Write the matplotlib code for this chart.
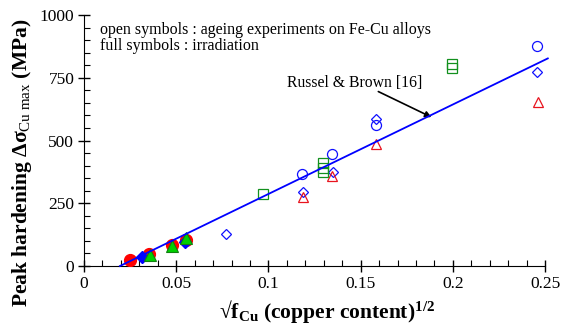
import numpy as np
import matplotlib
matplotlib.use("Agg")
import matplotlib.pyplot as plt
from matplotlib.ticker import MultipleLocator

plt.rcParams['font.family'] = ['Liberation Serif', 'DejaVu Serif']
plt.rcParams['mathtext.fontset'] = 'custom'
plt.rcParams['mathtext.rm'] = 'Liberation Serif'
plt.rcParams['mathtext.it'] = 'Liberation Serif:italic'
plt.rcParams['mathtext.bf'] = 'Liberation Serif:bold'

# ageing experiments on Fe-Cu alloys (open symbols)
open_circle_x = [0.1183, 0.1346, 0.1585, 0.2457]
open_circle_y = [367, 446, 562, 878]
open_diamond_x = [0.0772, 0.1185, 0.1350, 0.1585, 0.2457]
open_diamond_y = [128, 296, 374, 584, 774]
open_triangle_x = [0.1187, 0.1346, 0.1585, 0.2460]
open_triangle_y = [275, 358, 485, 655]
open_square_x = [0.0971, 0.1297, 0.1297, 0.1297, 0.1995, 0.1995]
open_square_y = [286, 376, 392, 412, 790, 806]

# irradiation (full symbols)
full_circle_x = [0.0250, 0.0355, 0.0476, 0.0552]
full_circle_y = [22, 48, 82, 104]
full_diamond_x = [0.0313, 0.0549]
full_diamond_y = [37, 96]
full_triangle_x = [0.0359, 0.0476, 0.0554]
full_triangle_y = [45, 80, 113]

# Russel & Brown model line
model_x = [0.0195, 0.2515]
model_y = [0, 827]

fig = plt.figure(figsize=(5.77, 3.32), dpi=100)
ax = fig.add_axes([0.1456, 0.1988, 0.799, 0.7560])

blue = '#1010ff'
red = '#e8141e'
green = '#12901e'

ax.plot(open_circle_x, open_circle_y, 'o', ms=7.2, mfc='none', mec=blue, mew=0.9)
ax.plot(open_diamond_x, open_diamond_y, 'D', ms=5.6, mfc='none', mec=blue, mew=0.9)
ax.plot(open_triangle_x, open_triangle_y, '^', ms=7.5, mfc='none', mec=red, mew=0.9)
ax.plot(open_square_x, open_square_y, 's', ms=7.0, mfc='none', mec=green, mew=0.9)

ax.plot(full_circle_x, full_circle_y, 'o', ms=8.5, mfc='#ff0000', mec='#ff0000', zorder=3)
ax.plot(full_diamond_x, full_diamond_y, 'D', ms=5.8, mfc='#0000ff', mec='#0000ff', zorder=3)
ax.plot(full_triangle_x, full_triangle_y, '^', ms=8.0, mfc='#00d000', mec='#108010', mew=0.8, zorder=4)

ax.plot(model_x, model_y, '-', color='#0000ff', lw=1.3, clip_on=False, zorder=5)

ax.text(0.1103, 729, 'Russel & Brown [16]', fontsize=11.3, va='center', ha='left')
ax.annotate('', xy=(0.1884, 593), xytext=(0.1596, 695),
            arrowprops=dict(arrowstyle='-|>', color='black', lw=1.2,
                            mutation_scale=9, shrinkA=0, shrinkB=0))

ax.text(0.0087, 974, 'open symbols : ageing experiments on Fe-Cu alloys\nfull symbols : irradiation',
        fontsize=11.5, va='top', ha='left', linespacing=1.05)

ax.set_xlim(0, 0.25)
ax.set_ylim(0, 1000)
ax.xaxis.set_minor_locator(MultipleLocator(0.01))
ax.yaxis.set_major_locator(MultipleLocator(250))
ax.yaxis.set_minor_locator(MultipleLocator(50))
ax.set_xticks([0, 0.05, 0.1, 0.15, 0.2, 0.25])
ax.set_xticklabels(['0', '0.05', '0.1', '0.15', '0.2', '0.25'])

ax.spines['top'].set_visible(False)
ax.spines['right'].set_visible(False)
ax.tick_params(which='major', direction='inout', length=8, width=1, labelsize=12.5, pad=3)
ax.tick_params(which='minor', direction='in', length=4, width=0.8)

ax.set_xlabel('\u221a' + r'$\mathbf{f_{Cu}}$ (copper content)$^{\mathbf{1/2}}$',
              fontsize=15.5, fontweight='bold')
ax.xaxis.label.set_va('center')
ax.xaxis.set_label_coords(0.527, -0.18, transform=ax.transAxes)

ax.set_ylabel('Peak hardening \u0394\u03c3' + r'$_{\mathrm{Cu\ max}}$ (MPa)',
              fontsize=15.5, fontweight='bold')
ax.yaxis.label.set_va('center')
ax.yaxis.set_label_coords(-0.134, 0.41, transform=ax.transAxes)

fig.savefig('out.png', dpi=100)
